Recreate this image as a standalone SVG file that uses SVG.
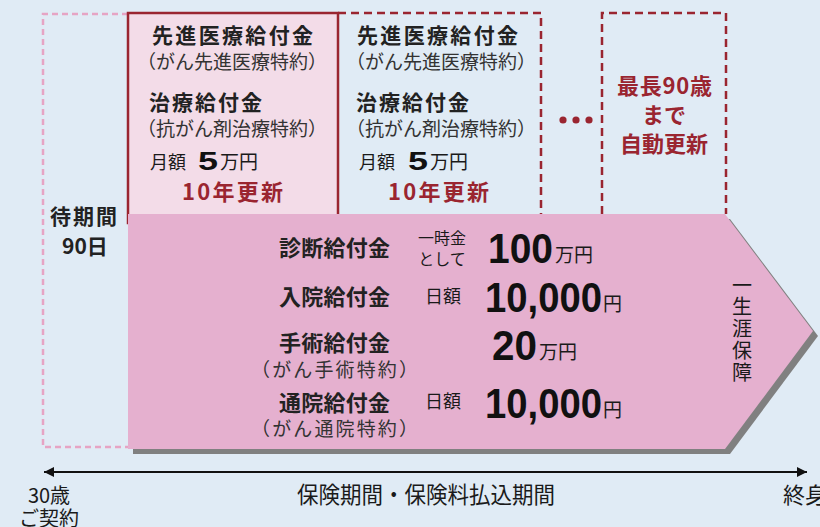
<svg xmlns="http://www.w3.org/2000/svg" width="820" height="527" viewBox="0 0 820 527">
<defs>
<style>
.j{font-family:"Noto Sans CJK JP","Noto Sans",sans-serif;fill:#1a1a1a}
.t{font-size:21px;font-weight:bold;fill:#222}
.u{font-size:22px;font-weight:bold;fill:#222}
.s{font-size:19px;fill:#333}
.r{font-family:"Noto Sans CJK JP",sans-serif;fill:#9a2530;font-weight:bold;font-size:22px}
.n{font-family:"Liberation Sans",Arial,sans-serif;font-weight:bold;fill:#111}
.dr{fill:none;stroke:#9a2530;stroke-width:2.5;stroke-dasharray:8 5}
</style>
<marker id="ah" viewBox="0 0 10 10" refX="10" refY="5" markerWidth="10" markerHeight="10" markerUnits="userSpaceOnUse" orient="auto-start-reverse"><path d="M0,0 L10,5 L0,10 z" fill="#111"/></marker>
</defs>
<rect width="820" height="527" fill="#e0ebf5"/>

<g id="waiting">
<path d="M128,14 H43 V447 H128" fill="none" stroke="#e6a4c4" stroke-width="2.5" stroke-dasharray="6 4"/>
<text class="j t" x="50" y="224" textLength="67">待期間</text>
<text class="j t" x="62" y="254">90日</text>
</g>

<g id="box1">
<rect x="128" y="13" width="210" height="210" fill="#f3dce8" stroke="#9a2530" stroke-width="2.5"/>
<text class="j t" x="152" y="43" textLength="161">先進医療給付金</text>
<text class="j s" x="137" y="69">（がん先進医療特約）</text>
<text class="j t" x="149" y="110" textLength="113">治療給付金</text>
<text class="j s" x="137" y="136">（抗がん剤治療特約）</text>
<text class="j" x="150" y="169" font-size="18">月額</text>
<text class="n" x="198" y="170" font-size="25" textLength="20" lengthAdjust="spacingAndGlyphs">5</text>
<text class="j" x="220" y="169" font-size="19">万円</text>
<text class="r" x="182" y="200" font-size="24" textLength="101">10年更新</text>
</g>

<g id="box2">
<path class="dr" d="M338,13 H541 V214"/>
<text class="j t" x="357" y="43" textLength="161">先進医療給付金</text>
<text class="j s" x="346" y="69">（がん先進医療特約）</text>
<text class="j t" x="356" y="110" textLength="113">治療給付金</text>
<text class="j s" x="346" y="136">（抗がん剤治療特約）</text>
<text class="j" x="359" y="169" font-size="18">月額</text>
<text class="n" x="408" y="170" font-size="25" textLength="20" lengthAdjust="spacingAndGlyphs">5</text>
<text class="j" x="430" y="169" font-size="19">万円</text>
<text class="r" x="388" y="200" font-size="24" textLength="101">10年更新</text>
</g>

<g id="dots" fill="#9a2530">
<circle cx="563" cy="120" r="3.6"/>
<circle cx="576" cy="120" r="3.6"/>
<circle cx="589" cy="120" r="3.6"/>
</g>

<g id="box3">
<path class="dr" d="M602,214 V13 H726 V214"/>
<text class="r" x="617" y="94" textLength="95">最長90歳</text>
<text class="r" x="664" y="123" text-anchor="middle">まで</text>
<text class="r" x="664" y="152" text-anchor="middle">自動更新</text>
</g>

<g id="coverage">
<polygon points="133,219 730,219 818,336 730,454 133,454" fill="#808080"/>
<polygon points="128,214 725,214 813,331 725,449 128,449" fill="#e5b0cf"/>
<text class="j u" x="279" y="256" textLength="111">診断給付金</text>
<text class="j u" x="279" y="305" textLength="111">入院給付金</text>
<text class="j u" x="279" y="351" textLength="111">手術給付金</text>
<text class="j s" x="251" y="377" textLength="167">（がん手術特約）</text>
<text class="j u" x="279" y="411" textLength="111">通院給付金</text>
<text class="j s" x="251" y="436" textLength="167">（がん通院特約）</text>

<text class="j" x="442" y="244" font-size="16" text-anchor="middle">一時金</text>
<text class="j" x="442" y="265" font-size="16" text-anchor="middle">として</text>
<text class="n" x="488" y="263" font-size="42" textLength="65" lengthAdjust="spacingAndGlyphs">100</text>
<text class="j" x="555" y="262" font-size="19">万円</text>

<text class="j" x="425" y="303" font-size="18">日額</text>
<text class="n" x="485" y="312" font-size="42" textLength="117" lengthAdjust="spacingAndGlyphs">10,000</text>
<text class="j" x="603" y="311" font-size="19">円</text>

<text class="n" x="492" y="360" font-size="42" textLength="45" lengthAdjust="spacingAndGlyphs">20</text>
<text class="j" x="539" y="359" font-size="19">万円</text>

<text class="j" x="425" y="408" font-size="18">日額</text>
<text class="n" x="485" y="418" font-size="42" textLength="117" lengthAdjust="spacingAndGlyphs">10,000</text>
<text class="j" x="603" y="417" font-size="19">円</text>

<g class="j" font-size="20" text-anchor="middle">
<text x="742" y="293">一</text>
<text x="742" y="314">生</text>
<text x="742" y="336">涯</text>
<text x="742" y="358">保</text>
<text x="742" y="380">障</text>
</g>
</g>

<g id="connectors">
<line x1="44" y1="472" x2="807" y2="472" stroke="#111" stroke-width="2" marker-start="url(#ah)" marker-end="url(#ah)"/>
</g>

<g id="axis-labels">
<text class="j" x="49" y="503" font-size="20" text-anchor="middle">30歳</text>
<text class="j" x="49" y="526" font-size="20" text-anchor="middle">ご契約</text>
<text class="j" x="297" y="503" font-size="23" textLength="258" lengthAdjust="spacingAndGlyphs">保険期間・保険料払込期間</text>
<text class="j" x="783" y="503" font-size="22">終身</text>
</g>
</svg>
